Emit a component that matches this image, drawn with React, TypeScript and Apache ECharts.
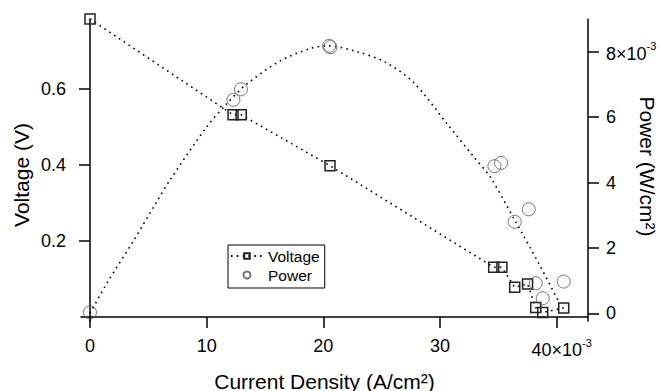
import React, { useEffect, useRef } from "react";
import * as echarts from "echarts";

// Current density in units of 10^-3 A/cm^2
const voltX = [0, 12.26, 12.96, 20.57, 34.6, 35.3, 36.4, 37.5, 38.2, 38.8, 40.6];
const voltV = [0.784, 0.532, 0.532, 0.398, 0.131, 0.131, 0.078, 0.087, 0.025, 0.012, 0.024];

// Power in units of 10^-3 W/cm^2
const powX = [0, 12.29, 12.94, 20.5, 20.6, 34.66, 35.23, 36.4, 37.6, 38.2, 38.8, 40.6];
const powP = [0.03, 6.53, 6.85, 8.18, 8.14, 4.5, 4.6, 2.8, 3.18, 0.92, 0.46, 0.97];

// Fitted power curve
const fitX = [0, 1.5, 3.7, 5.7, 6.9, 10, 11.7, 13.4, 16.3, 18.9, 20.3, 22.9, 25.3, 27.7, 30.6, 32.9, 34.3, 36.4, 38.5, 40.1];
const fitP = [0, 0.95, 2.2, 3.4, 4.1, 5.7, 6.4, 7.0, 7.72, 8.1, 8.18, 8.0, 7.68, 7.07, 5.8, 4.78, 4.17, 2.85, 1.5, 0.4];

const xTicks = [0, 10, 20, 30, 40];
const vTicks = [0.2, 0.4, 0.6];
const pTicks = [0, 2, 4, 6, 8];

const FONT = '"Liberation Sans", Arial, Helvetica, sans-serif';

export default function App() {
  const ref = useRef<HTMLDivElement>(null);
  useEffect(() => {
    if (!ref.current) return;
    const chart = echarts.init(ref.current, null, { renderer: "svg" });
    const axisLine = { show: true, lineStyle: { color: "#000", width: 1.5 } };
    const axisTick = { show: true, length: 11, lineStyle: { color: "#000", width: 1.5 } };
    const sup = { fontSize: 11, fontFamily: FONT, color: "#000", verticalAlign: "top" };
    const richX = {
      b: { fontSize: 18, fontFamily: FONT, color: "#000", verticalAlign: "bottom", padding: [4, 0, 0, 10] },
      s: sup,
    };
    const richR = {
      b: { fontSize: 18, fontFamily: FONT, color: "#000", verticalAlign: "bottom", padding: [4, 0, 0, 0] },
      s: sup,
    };
    const dotted = { color: "#000", width: 1.6, type: [1.6, 4.2] as any };
    const titleStyle = (text: string) => ({
      text,
      font: `21px ${FONT}`,
      fill: "#000",
      align: "center",
      verticalAlign: "middle",
      textAlign: "center",
      textVerticalAlign: "middle",
    });
    const option: any = {
      animation: false,
      grid: { left: 81, right: 75, top: 19, bottom: 70, containLabel: false },
      legend: {
        data: ["Voltage", "Power"],
        orient: "vertical",
        left: 228,
        top: 245,
        padding: [3, 5, 5, 2],
        itemGap: 3,
        itemWidth: 32,
        itemHeight: 7,
        borderColor: "#000",
        borderWidth: 1,
        backgroundColor: "#fff",
        textStyle: { fontFamily: FONT, fontSize: 15.5, color: "#000", lineHeight: 15 },
      },
      xAxis: {
        type: "value",
        min: -0.77,
        max: 42.68,
        splitLine: { show: false },
        axisLine,
        axisTick: { ...axisTick, customValues: xTicks },
        axisLabel: {
          customValues: xTicks,
          margin: 16,
          fontFamily: FONT,
          fontSize: 18,
          color: "#000",
          formatter: (v: number) => (v === 40 ? "{b|40×10}{s|-3}" : String(v)),
          rich: richX,
        },
      },
      yAxis: [
        {
          type: "value",
          position: "left",
          min: -0.0105,
          max: 0.784,
          splitLine: { show: false },
          axisLine,
          axisTick: { ...axisTick, customValues: vTicks },
          axisLabel: {
            customValues: vTicks,
            margin: 15,
            fontFamily: FONT,
            fontSize: 18,
            color: "#000",
            formatter: (v: number) => v.toFixed(1),
          },
        },
        {
          type: "value",
          position: "right",
          min: -0.235,
          max: 9.0,
          splitLine: { show: false },
          axisLine,
          axisTick: { ...axisTick, customValues: pTicks },
          axisLabel: {
            customValues: pTicks,
            margin: 18,
            fontFamily: FONT,
            fontSize: 18,
            color: "#000",
            formatter: (v: number) => (v === 8 ? "{b|8×10}{s|-3}" : String(v)),
            rich: richR,
          },
        },
      ],
      series: [
        {
          name: "Power fit",
          type: "line",
          yAxisIndex: 1,
          data: fitX.map((x, i) => [x, fitP[i]]),
          smooth: 0.3,
          showSymbol: false,
          symbol: "none",
          lineStyle: dotted,
          clip: false,
          z: 2,
        },
        {
          name: "Voltage",
          type: "line",
          yAxisIndex: 0,
          data: voltX.map((x, i) => [x, voltV[i]]),
          symbol: "rect",
          symbolSize: 10,
          showAllSymbol: true,
          lineStyle: dotted,
          itemStyle: { color: "rgba(0,0,0,0)", borderColor: "#222", borderWidth: 1.5 },
          clip: false,
          z: 3,
        },
        {
          name: "Power",
          type: "scatter",
          yAxisIndex: 1,
          data: powX.map((x, i) => [x, powP[i]]),
          symbol: "circle",
          symbolSize: 13,
          itemStyle: { color: "rgba(0,0,0,0)", borderColor: "#555", borderWidth: 1 },
          clip: false,
          z: 3,
        },
      ],
      graphic: [
        { type: "text", x: 324.5, y: 381, style: titleStyle("Current Density (A/cm²)") },
        { type: "text", x: 21.5, y: 175, rotation: Math.PI / 2, style: titleStyle("Voltage (V)") },
        { type: "text", x: 647.5, y: 166.5, rotation: -Math.PI / 2, style: titleStyle("Power (W/cm²)") },
      ],
    };
    chart.setOption(option);
    return () => chart.dispose();
  }, []);
  return (
    <div
      ref={ref}
      style={{ position: "absolute", left: 0, top: 0, width: 663, height: 391, background: "#fff" }}
    />
  );
}
